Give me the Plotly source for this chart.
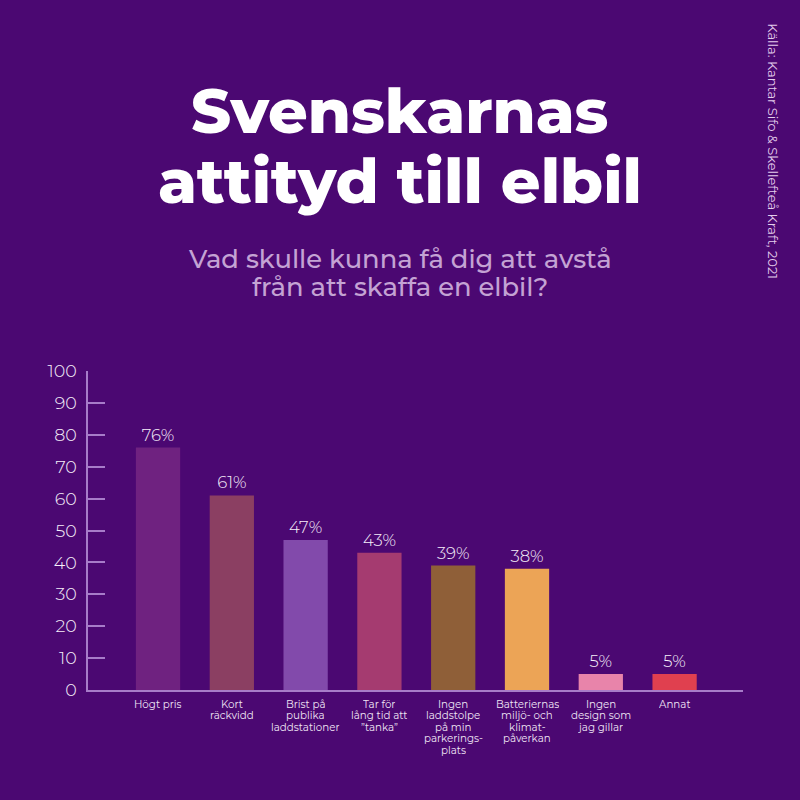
import plotly.graph_objects as go

categories = [
    ["Högt pris"],
    ["Kort", "räckvidd"],
    ["Brist på", "publika", "laddstationer"],
    ["Tar för", "lång tid att", "”tanka”"],
    ["Ingen", "laddstolpe", "på min", "parkerings-", "plats"],
    ["Batteriernas", "miljö- och", "klimat-", "påverkan"],
    ["Ingen", "design som", "jag gillar"],
    ["Annat"],
]
values = [76, 61, 47, 43, 39, 38, 5, 5]
colors = ["#6f2280", "#8b3f62", "#824aab", "#a53b70", "#8f5f38", "#eca456", "#e884aa", "#e0404f"]
y_ticks = [0, 10, 20, 30, 40, 50, 60, 70, 80, 90, 100]
title_lines = ["Svenskarnas", "attityd till elbil"]
subtitle_lines = ["Vad skulle kunna få dig att avstå", "från att skaffa en elbil?"]
source = "Källa: Kantar Sifo & Skellefteå Kraft, 2021"

BG = "#4b0872"
AXIS = "#a77cc9"
FONT = "Montserrat, Inter, sans-serif"

fig = go.Figure()
fig.add_trace(go.Bar(
    x=list(range(len(values))),
    y=values,
    width=0.6,
    marker=dict(color=colors, line=dict(width=0)),
    text=[f"{v}%" for v in values],
    textposition="outside",
    cliponaxis=False,
    textfont=dict(family=FONT, size=16.5, color="#f6effa", weight=300),
    hoverinfo="skip",
))

annotations = []

def page_text(text, x, y, size, color, weight, angle=0):
    annotations.append(dict(
        text=text, xref="paper", yref="paper", x=(x - 88) / 655, y=(690 - y) / 319.5,
        showarrow=False, xanchor="center", yanchor="middle", textangle=angle,
        font=dict(family=FONT, size=size, color=color, weight=weight),
    ))

page_text(title_lines[0], 400, 110, 62, "#ffffff", 800)
page_text(title_lines[1], 400, 180, 62, "#ffffff", 800)
page_text(subtitle_lines[0], 400, 258, 25.8, "#c4a3d4", 500)
page_text(subtitle_lines[1], 400, 286, 25.8, "#c4a3d4", 500)
page_text(source, 773.5, 150, 13, "#e3cdec", 400, angle=90)

# category labels line by line, the line spacing is tighter than tick labels allow
for i, lines in enumerate(categories):
    for j, line in enumerate(lines):
        annotations.append(dict(
            text=line, xref="x", yref="paper", x=i, y=0, yshift=-14 - 11.6 * j,
            showarrow=False, xanchor="center", yanchor="middle", height=11, borderpad=0,
            font=dict(family=FONT, size=10.3, color="#efe4f4", weight=400),
        ))

fig.update_layout(
    width=800,
    height=800,
    margin=dict(l=88, r=57, t=370.5, b=110),
    paper_bgcolor=BG,
    plot_bgcolor=BG,
    showlegend=False,
    annotations=annotations,
    xaxis=dict(
        range=[-0.949, 7.927], showgrid=False, zeroline=False, showticklabels=False,
        ticks="", showline=True, linecolor=AXIS, linewidth=1.5,
    ),
    yaxis=dict(
        range=[0, 100], tickvals=y_ticks, showgrid=False, zeroline=False,
        ticks="inside", ticklen=17, tickcolor=AXIS, tickwidth=1.5,
        showline=True, linecolor=AXIS, linewidth=1.5, ticklabelstandoff=6,
        tickfont=dict(family=FONT, size=17.5, color="#f6effa", weight=300),
    ),
)

# drop the default page margin so the figure fills the window
fig.write_html("out.html", config=dict(displayModeBar=False), post_script="document.body.style.margin = '0';")
